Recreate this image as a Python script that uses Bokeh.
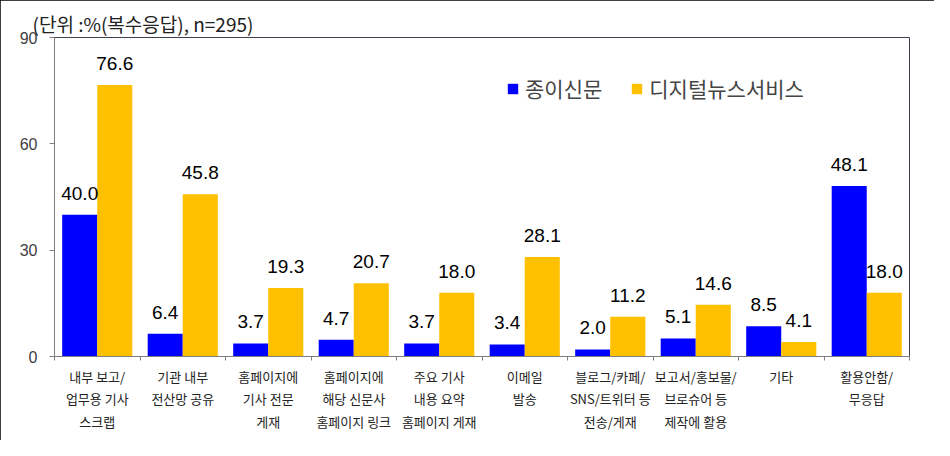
from bokeh.plotting import figure
from bokeh.models import (ColumnDataSource, FixedTicker, Range1d, Legend, LegendItem,
                          LabelSet, Title, LinearAxis, CategoricalAxis)
from bokeh.transform import dodge
from bokeh.core.properties import value
from bokeh.embed import file_html
from bokeh.resources import INLINE

categories = ["내부 보고/\n업무용 기사\n스크랩", "기관 내부\n전산망 공유", "홈페이지에\n기사 전문\n게재",
              "홈페이지에\n해당 신문사\n홈페이지 링크", "주요 기사\n내용 요약\n홈페이지 게재", "이메일\n발송",
              "블로그/카페/\nSNS/트위터 등\n전송/게재", "보고서/홍보물/\n브로슈어 등\n제작에 활용", "기타",
              "활용안함/\n무응답"]
paper = [40.0, 6.4, 3.7, 4.7, 3.7, 3.4, 2.0, 5.1, 8.5, 48.1]
digital = [76.6, 45.8, 19.3, 20.7, 18.0, 28.1, 11.2, 14.6, 4.1, 18.0]
series_names = ["종이신문", "디지털뉴스서비스"]
y_ticks = [0, 30, 60, 90]
title_text = "(단위 :%(복수응답), n=295)"

BLUE = "#0000FF"
YELLOW = "#FFC000"
KFONT = "Noto Sans CJK KR"
NFONT = "Liberation Sans"

src = ColumnDataSource(dict(cat=categories, paper=paper, digital=digital,
                            paper_txt=[f"{v:.1f}" for v in paper],
                            digital_txt=[f"{v:.1f}" for v in digital]))

p = figure(x_range=categories, y_range=Range1d(0, 90), width=934, height=440,
           output_backend="svg", toolbar_location=None, x_axis_type=None,
           min_border_left=54, min_border_top=37, min_border_right=25, min_border_bottom=84)
p.styles = {"outline": "3px solid black", "outline-offset": "-3px"}

p.add_layout(Title(text=title_text, align="left", offset=-22, standoff=1,
                   text_font=KFONT, text_font_size="19px", text_font_style="normal",
                   text_color="#222222"), "above")

r1 = p.vbar(x=dodge("cat", -0.205, range=p.x_range), top="paper", width=0.41, source=src,
            fill_color=BLUE, line_color=None)
r2 = p.vbar(x=dodge("cat", 0.205, range=p.x_range), top="digital", width=0.41, source=src,
            fill_color=YELLOW, line_color=None)

for col, txt, off in [("paper", "paper_txt", -0.205), ("digital", "digital_txt", 0.205)]:
    ls = LabelSet(x=dodge("cat", off, range=p.x_range), y=col, text=txt, source=src,
                  text_align="center", text_baseline="alphabetic", y_offset=15,
                  text_font=value(NFONT), text_font_size=value("19px"), text_color="black")
    p.add_layout(ls)

# boundary tick axis (ticks between categories)
tick_axis = LinearAxis(ticker=FixedTicker(ticks=list(range(0, len(categories) + 1))),
                       axis_line_color="#808080", major_tick_line_color="#808080",
                       major_tick_in=0, major_tick_out=4, minor_tick_line_color=None,
                       major_label_text_font_size="0px", major_label_standoff=0)
tick_axis.major_label_overrides = {i: "" for i in range(0, len(categories) + 1)}
p.add_layout(tick_axis, "below")

cat_axis = CategoricalAxis(axis_line_color=None, major_tick_line_color=None,
                           major_label_text_font=KFONT, major_label_text_font_size="13px",
                           major_label_text_color="#222222", major_label_standoff=0,
                           major_label_text_line_height=1.2)
p.add_layout(cat_axis, "below")

p.yaxis.ticker = FixedTicker(ticks=y_ticks)
p.yaxis.axis_line_color = "#808080"
p.yaxis.major_tick_line_color = "#808080"
p.yaxis.major_tick_in = 0
p.yaxis.major_tick_out = 5
p.yaxis.minor_tick_line_color = None
p.yaxis.major_label_text_font = NFONT
p.yaxis.major_label_text_font_size = "16px"
p.yaxis.major_label_text_color = "#404040"
p.yaxis.major_label_standoff = 12

p.xgrid.grid_line_color = None
p.ygrid.grid_line_color = None
p.outline_line_color = "#404050"
p.outline_line_width = 1

legend = Legend(items=[LegendItem(label=series_names[0], renderers=[r1]),
                       LegendItem(label=series_names[1], renderers=[r2])],
                orientation="horizontal", location=(452, 253),
                border_line_color=None, background_fill_alpha=0,
                label_text_font=KFONT, label_text_font_size="21px",
                glyph_width=13, glyph_height=13, spacing=28, padding=0, margin=0,
                label_standoff=6)
p.add_layout(legend)

open("out.html", "w").write(file_html(p, INLINE))
